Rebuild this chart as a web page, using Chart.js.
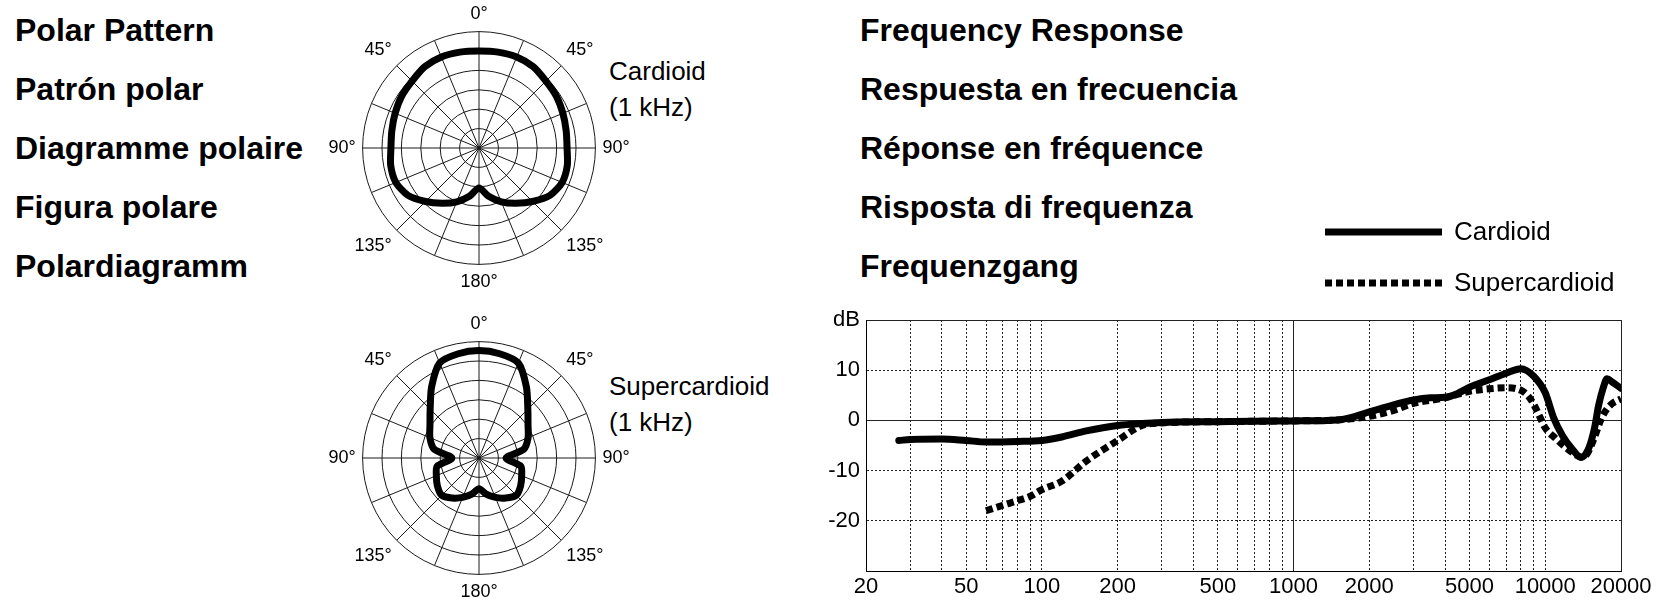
<!DOCTYPE html>
<html>
<head>
<meta charset="utf-8">
<script src="https://cdn.jsdelivr.net/npm/chart.js"></script>
<style>
  html, body { margin: 0; padding: 0; background: #fff; }
  body { width: 1656px; height: 608px; position: relative; overflow: hidden; font-family: 'Liberation Sans', Arial, sans-serif; color: #000; }
  .titles { position: absolute; font-size: 32px; font-weight: bold; line-height: 59px; white-space: nowrap; }
  .note { position: absolute; font-size: 26px; line-height: 36px; white-space: nowrap; }
  canvas { position: absolute; }
</style>
</head>
<body>
<div class="titles" style="left:15px; top:1px;">
  Polar Pattern<br>Patrón polar<br>Diagramme polaire<br>Figura polare<br>Polardiagramm
</div>
<div class="titles" style="left:860px; top:1px;">
  Frequency Response<br>Respuesta en frecuencia<br>Réponse en fréquence<br>Risposta di frequenza<br>Frequenzgang
</div>
<div class="note" style="left:609px; top:53px;">Cardioid<br>(1 kHz)</div>
<div class="note" style="left:609px; top:368px;">Supercardioid<br>(1 kHz)</div>

<canvas id="polarCardioid" width="340" height="291" style="left:309px; top:3px;"></canvas>
<canvas id="polarSuper" width="340" height="291" style="left:309px; top:313px;"></canvas>
<canvas id="freqChart" width="856" height="408" style="left:800px; top:200px;"></canvas>

<script>
// --- Cấu hình chung ---
Chart.defaults.font.family = "'Liberation Sans', Arial, sans-serif";
Chart.defaults.color = '#000';
Chart.defaults.animation = false;

// --- Polar data: 32 directions, every 11.25 deg, clockwise from 0 deg (dB) ---
const polarLabels = ['0°', '', '', '', '45°', '', '', '', '90°', '', '', '', '135°', '', '', '',
                     '180°', '', '', '', '135°', '', '', '', '90°', '', '', '', '45°', '', '', ''];
const cardioidPolar = [0, 0.2, 0.4, 0.2, -0.6, -1.0, -1.6, -2.1, -2.3, -1.8, -1.8, -3.0, -5.5, -7.9, -10.0, -12.3,
                       -14.7, -12.3, -10.0, -7.9, -5.5, -3.0, -1.8, -1.8, -2.3, -2.1, -1.6, -1.0, -0.6, 0.2, 0.4, 0.2];
const superPolar = [2.7, 2.4, 1.5, -3.0, -7.2, -9.8, -11.3, -13.2, -18.0, -14.0, -13.1, -12.1, -11.4, -12.6, -14.0, -15.5,
                    -17.1, -15.5, -14.0, -12.6, -11.4, -12.1, -13.1, -14.0, -18.0, -13.2, -11.3, -9.8, -7.2, -3.0, 1.5, 2.4];

// --- Frequency response data (Hz, dB) ---
const cardFreq = [27, 30, 40, 50, 60, 80, 100, 120, 150, 200, 250, 300, 500, 700, 1000, 1500, 1700, 2000, 2500, 3000,
                  3500, 4000, 4500, 5000, 6000, 7000, 8000, 9000, 10000, 10800, 11700, 12700, 13900, 14900, 15700,
                  16300, 17000, 17600, 18500, 20000];
const cardDb = [-4.0, -3.8, -3.7, -4.0, -4.3, -4.2, -4.0, -3.3, -2.1, -1.0, -0.6, -0.4, -0.25, -0.15, -0.1, 0.1, 0.6, 1.7, 3.1, 4.1,
                4.5, 4.6, 5.4, 6.6, 8.1, 9.4, 10.3, 8.8, 5.5, 0.5, -3.0, -5.5, -7.4, -5.5, -1.5,
                3.0, 6.5, 8.3, 7.6, 6.4];
const superFreq = [60, 70, 80, 90, 100, 120, 150, 200, 250, 300, 500, 1000, 1500, 2000, 2500, 3000, 4000, 5000, 6000, 7000,
                   8000, 8500, 9000, 9500, 10000, 11000, 12000, 13200, 13900, 14700, 15700, 16700, 17600, 18500, 20000];
const superDb = [-18.0, -16.9, -16.0, -15.1, -13.8, -12.1, -8.1, -4.0, -1.0, -0.5, -0.25, -0.1, 0.1, 0.8, 2.0, 3.4, 4.5, 5.8, 6.3, 6.5,
                 6.0, 5.0, 3.2, 0.8, -1.5, -3.6, -5.3, -6.8, -7.3, -6.6, -3.3, 0.3, 2.3, 3.4, 4.3];

// --- Tick / grid values ---
const xGrid = [20, 30, 40, 50, 60, 70, 80, 90, 100, 200, 300, 400, 500, 600, 700, 800, 900,
               1000, 2000, 3000, 4000, 5000, 6000, 7000, 8000, 9000, 10000, 20000];
const xLabels = [20, 50, 100, 200, 500, 1000, 2000, 5000, 10000, 20000];
const yLabels = [10, 0, -10, -20];

// --- BIỂU ĐỒ CỰC (polar) ---
function makePolar(id, values) {
    return new Chart(document.getElementById(id), {
        type: 'radar',
        data: {
            labels: polarLabels,
            datasets: [{
                data: values,
                borderColor: '#000',
                borderWidth: 7,
                borderJoinStyle: 'round',
                fill: false,
                pointRadius: 0,
                tension: 0.25
            }]
        },
        options: {
            responsive: false,
            plugins: { legend: { display: false }, tooltip: { enabled: false } },
            scales: {
                r: {
                    min: -25,
                    max: 5,
                    ticks: { display: false, stepSize: 5 },
                    grid: { circular: true, color: '#1a1a1a', lineWidth: 1 },
                    angleLines: {
                        color: '#1a1a1a',
                        lineWidth: (c) => (c.index % 2 === 0 ? 1 : 0)
                    },
                    pointLabels: { font: { size: 18 }, color: '#000', padding: 7 }
                }
            }
        }
    });
}
makePolar('polarCardioid', cardioidPolar);
makePolar('polarSuper', superPolar);

// --- Chú thích (legend) phía trên biểu đồ tần số ---
const legendLines = {
    id: 'legendLines',
    afterDraw(chart) {
        const { ctx, chartArea } = chart;
        chart.data.datasets.forEach((ds, i) => {
            const x0 = chartArea.left + 459;
            const y = chartArea.top - 88 + i * 51;
            ctx.save();
            ctx.strokeStyle = ds.borderColor;
            ctx.lineWidth = ds.borderWidth;
            ctx.setLineDash(ds.borderDash || []);
            ctx.beginPath();
            ctx.moveTo(x0, y);
            ctx.lineTo(x0 + 117, y);
            ctx.stroke();
            ctx.setLineDash([]);
            ctx.fillStyle = '#000';
            ctx.font = "26px 'Liberation Sans', Arial, sans-serif";
            ctx.textBaseline = 'middle';
            ctx.fillText(ds.label, x0 + 129, y + 1);
            ctx.restore();
        });
    }
};

// --- BIỂU ĐỒ TẦN SỐ ---
new Chart(document.getElementById('freqChart'), {
    type: 'line',
    data: {
        datasets: [
            {
                label: 'Cardioid',
                data: cardFreq.map((f, i) => ({ x: f, y: cardDb[i] })),
                borderColor: '#000',
                borderWidth: 7,
                borderCapStyle: 'round',
                pointRadius: 0,
                cubicInterpolationMode: 'monotone'
            },
            {
                label: 'Supercardioid',
                data: superFreq.map((f, i) => ({ x: f, y: superDb[i] })),
                borderColor: '#000',
                borderWidth: 7,
                borderDash: [7, 4],
                pointRadius: 0,
                cubicInterpolationMode: 'monotone'
            }
        ]
    },
    options: {
        responsive: false,
        layout: { padding: { top: 120, right: 35, bottom: 0, left: 0 } },
        plugins: { legend: { display: false }, tooltip: { enabled: false } },
        scales: {
            x: {
                type: 'logarithmic',
                min: 20,
                max: 20000,
                afterBuildTicks: (scale) => { scale.ticks = xGrid.map(v => ({ value: v })); },
                afterFit: (scale) => { scale.height = 37; },
                ticks: {
                    autoSkip: false, maxRotation: 0, minRotation: 0, padding: 3,
                    font: { size: 22 },
                    callback: (v) => (xLabels.includes(v) ? String(v) : '')
                },
                grid: { color: '#222', lineWidth: 1, drawTicks: false },
                border: {
                    color: '#000', width: 1,
                    dash: (c) => (c.tick && [20, 1000, 20000].includes(c.tick.value) ? [] : [2, 2])
                }
            },
            y: {
                min: -30,
                max: 20,
                afterFit: (scale) => { scale.width = 66; },
                ticks: {
                    stepSize: 10, padding: 6,
                    font: { size: 22 },
                    callback: (v) => (v === 20 ? 'dB' : (yLabels.includes(v) ? String(v) : ''))
                },
                grid: { color: '#222', lineWidth: 1, drawTicks: false },
                border: {
                    color: '#000', width: 1,
                    dash: (c) => (c.tick && [-30, 0, 20].includes(c.tick.value) ? [] : [2, 2])
                }
            }
        }
    },
    plugins: [legendLines]
});
</script>
</body>
</html>
